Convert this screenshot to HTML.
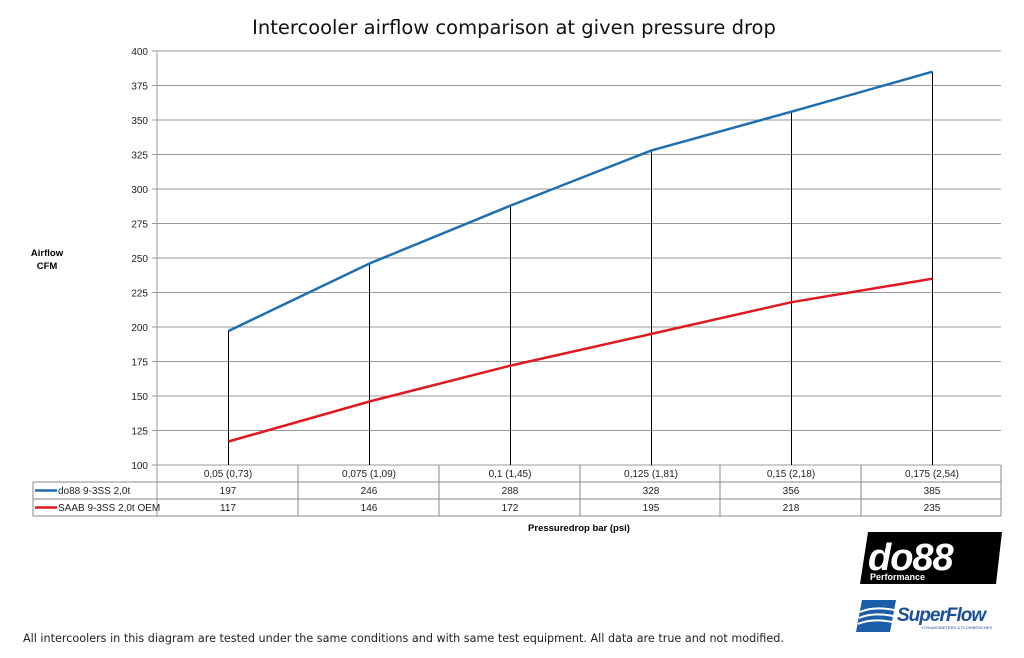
<!DOCTYPE html>
<html><head><meta charset="utf-8"><style>body{margin:0;background:#fff}svg{display:block}</style></head><body>
<svg width="1024" height="658" xmlns="http://www.w3.org/2000/svg" font-family="Liberation Sans, sans-serif">
<text x="514" y="34" font-size="19.5" text-anchor="middle" fill="#111" font-family="DejaVu Sans, sans-serif">Intercooler airflow comparison at given pressure drop</text>
<g stroke="#999" stroke-width="1">
<line x1="152" y1="51" x2="1001" y2="51"/><line x1="152" y1="85.5" x2="1001" y2="85.5"/><line x1="152" y1="120" x2="1001" y2="120"/><line x1="152" y1="154.5" x2="1001" y2="154.5"/><line x1="152" y1="189" x2="1001" y2="189"/><line x1="152" y1="223.5" x2="1001" y2="223.5"/><line x1="152" y1="258" x2="1001" y2="258"/><line x1="152" y1="292.5" x2="1001" y2="292.5"/><line x1="152" y1="327" x2="1001" y2="327"/><line x1="152" y1="361.5" x2="1001" y2="361.5"/><line x1="152" y1="396" x2="1001" y2="396"/><line x1="152" y1="430.5" x2="1001" y2="430.5"/><line x1="152" y1="465" x2="1001" y2="465"/>
<line x1="157" y1="51" x2="157" y2="516"/>
</g>
<g font-size="10" fill="#222" text-anchor="end">
<text x="148" y="55">400</text><text x="148" y="89.5">375</text><text x="148" y="124">350</text><text x="148" y="158.5">325</text><text x="148" y="193">300</text><text x="148" y="227.5">275</text><text x="148" y="262">250</text><text x="148" y="296.5">225</text><text x="148" y="331">200</text><text x="148" y="365.5">175</text><text x="148" y="400">150</text><text x="148" y="434.5">125</text><text x="148" y="469">100</text>
</g>
<text x="47" y="256" font-size="9.5" font-weight="bold" text-anchor="middle">Airflow</text>
<text x="47" y="269" font-size="9.5" font-weight="bold" text-anchor="middle">CFM</text>
<g stroke="#000" stroke-width="1">
<line x1="228.5" y1="331" x2="228.5" y2="465"/><line x1="369.5" y1="263.5" x2="369.5" y2="465"/><line x1="510.5" y1="205.6" x2="510.5" y2="465"/><line x1="651.5" y1="150.4" x2="651.5" y2="465"/><line x1="791.5" y1="111.7" x2="791.5" y2="465"/><line x1="932.5" y1="71.7" x2="932.5" y2="465"/>
</g>
<polyline fill="none" stroke="#1f6fb0" stroke-width="2.5" points="228.5,331 369.5,263.5 510.5,205.6 651.5,150.4 791.5,111.7 932.5,71.7"/>
<polyline fill="none" stroke="#e0191e" stroke-width="2.5" points="228.5,441.5 369.5,401.5 510.5,365.6 651.5,333.9 791.5,302.2 932.5,278.7"/>
<g stroke="#888" stroke-width="1" fill="none">
<line x1="33" y1="482" x2="1001" y2="482"/><line x1="33" y1="499" x2="1001" y2="499"/><line x1="33" y1="516" x2="1001" y2="516"/>
<line x1="33" y1="482" x2="33" y2="516"/><line x1="1001" y1="465" x2="1001" y2="516"/>
<line x1="298" y1="465" x2="298" y2="516"/><line x1="439" y1="465" x2="439" y2="516"/><line x1="580" y1="465" x2="580" y2="516"/><line x1="720" y1="465" x2="720" y2="516"/><line x1="861" y1="465" x2="861" y2="516"/>
</g>
<g font-size="10" fill="#222" text-anchor="middle">
<text x="228" y="477">0,05 (0,73)</text><text x="369" y="477">0,075 (1,09)</text><text x="510" y="477">0,1 (1,45)</text><text x="651" y="477">0,125 (1,81)</text><text x="791" y="477">0,15 (2,18)</text><text x="932" y="477">0,175 (2,54)</text>
<text x="228" y="494">197</text><text x="369" y="494">246</text><text x="510" y="494">288</text><text x="651" y="494">328</text><text x="791" y="494">356</text><text x="932" y="494">385</text>
<text x="228" y="511">117</text><text x="369" y="511">146</text><text x="510" y="511">172</text><text x="651" y="511">195</text><text x="791" y="511">218</text><text x="932" y="511">235</text>
</g>
<line x1="35" y1="490.5" x2="57" y2="490.5" stroke="#1f6fb0" stroke-width="2.5"/>
<line x1="35" y1="507.5" x2="57" y2="507.5" stroke="#e0191e" stroke-width="2.5"/>
<text x="58" y="494" font-size="10" fill="#222">do88 9-3SS 2,0t</text>
<text x="58" y="511" font-size="10" fill="#222">SAAB 9-3SS 2,0t OEM</text>
<text x="579" y="531" font-size="9.5" font-weight="bold" text-anchor="middle">Pressuredrop bar (psi)</text>
<text x="23" y="642" font-size="11.2" fill="#222" font-family="DejaVu Sans, sans-serif">All intercoolers in this diagram are tested under the same conditions and with same test equipment. All data are true and not modified.</text>
<polygon points="868,532 1002,532 996,584 860,584" fill="#000"/>
<text x="868" y="570" font-size="38" font-weight="bold" font-style="italic" fill="#fff" letter-spacing="-1">do88</text>
<text x="870" y="580" font-size="9" font-weight="bold" fill="#fff">Performance</text>
<polygon points="862,600 896,600 890,632 856,632" fill="#1a5ea8"/>
<path d="M860,612 q14,-6 34,-2 M859,618 q14,-6 34,-2 M858,624 q14,-6 34,-2" stroke="#fff" stroke-width="2" fill="none"/>
<text x="897" y="621" font-size="19" font-weight="bold" font-style="italic" fill="#1a4f99" letter-spacing="-1">SuperFlow</text>
<text x="922" y="629" font-size="4" fill="#1a4f99">DYNAMOMETERS &amp; FLOWBENCHES</text>
</svg>
</body></html>
